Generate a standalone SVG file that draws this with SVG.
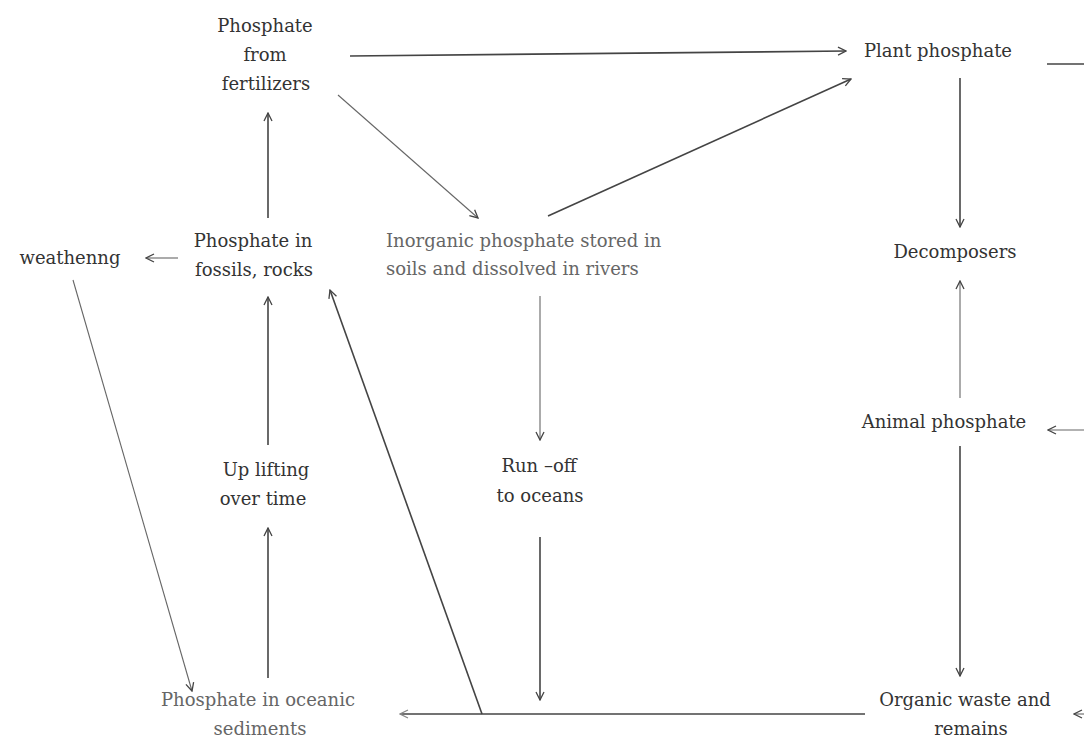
<svg xmlns="http://www.w3.org/2000/svg" width="1084" height="741" viewBox="0 0 1084 741">
<style>
text{font-family:'DejaVu Serif','Liberation Serif',serif;font-size:18px;fill:#333;text-anchor:middle}
.light{fill:#666}
.c{stroke:#444;stroke-width:1.6;fill:none}
.t{stroke:#666;stroke-width:1.1;fill:none}
</style>
<defs>
<marker id="a" viewBox="0 0 10 10" refX="9" refY="5" markerWidth="10" markerHeight="10" markerUnits="userSpaceOnUse" orient="auto">
<path d="M1,1 L9,5 L1,9" fill="none" stroke="#444" stroke-width="1.3"/>
</marker>
<marker id="al" viewBox="0 0 10 10" refX="9" refY="5" markerWidth="10" markerHeight="10" markerUnits="userSpaceOnUse" orient="auto">
<path d="M1,1 L9,5 L1,9" fill="none" stroke="#888" stroke-width="1.2"/>
</marker>
</defs>
<rect width="1084" height="741" fill="#fff"/>
<g id="connectors">
<line class="c" x1="350" y1="56" x2="846" y2="51" marker-end="url(#a)"/>
<line class="c" x1="1047" y1="64" x2="1084" y2="64"/>
<line class="t" x1="338" y1="95" x2="478" y2="218" marker-end="url(#a)"/>
<line class="c" x1="548" y1="216" x2="851" y2="79" marker-end="url(#a)"/>
<line class="c" x1="268" y1="218" x2="268" y2="113" marker-end="url(#a)"/>
<line class="t" x1="178" y1="258" x2="146" y2="258" marker-end="url(#a)"/>
<line class="c" x1="960" y1="78" x2="960" y2="227" marker-end="url(#a)"/>
<line class="t" x1="960" y1="398" x2="960" y2="281" marker-end="url(#a)"/>
<line class="t" x1="1084" y1="430" x2="1048" y2="430" marker-end="url(#a)"/>
<line class="c" x1="960" y1="446" x2="960" y2="676" marker-end="url(#a)"/>
<line class="t" x1="1084" y1="714" x2="1074" y2="714" marker-end="url(#a)"/>
<line class="c" x1="865" y1="714" x2="400" y2="714" marker-end="url(#al)"/>
<line class="t" x1="540" y1="296" x2="540" y2="440" marker-end="url(#a)"/>
<line class="c" x1="540" y1="537" x2="540" y2="700" marker-end="url(#a)"/>
<line class="c" x1="268" y1="445" x2="268" y2="297" marker-end="url(#a)"/>
<line class="c" x1="268" y1="678" x2="268" y2="528" marker-end="url(#a)"/>
<line class="t" x1="73" y1="280" x2="192" y2="691" marker-end="url(#a)"/>
<line class="c" x1="482" y1="714" x2="330" y2="290" marker-end="url(#a)"/>
</g>
<g id="fertilizers"><text x="265" y="32">Phosphate</text><text x="265" y="61">from</text><text x="266" y="90">fertilizers</text></g>
<g id="plant"><text x="938" y="57">Plant phosphate</text></g>
<g id="weathering"><text x="70" y="264">weathenng</text></g>
<g id="fossils"><text x="253" y="247">Phosphate in</text><text x="254" y="276">fossils, rocks</text></g>
<g id="inorganic"><text x="386" y="247" style="text-anchor:start" class="light">Inorganic phosphate stored in</text><text x="386" y="275" style="text-anchor:start" class="light">soils and dissolved in rivers</text></g>
<g id="decomposers"><text x="955" y="258">Decomposers</text></g>
<g id="animal"><text x="944" y="428">Animal phosphate</text></g>
<g id="organic"><text x="965" y="706">Organic waste and</text><text x="971" y="735">remains</text></g>
<g id="runoff"><text x="539" y="472">Run –off</text><text x="540" y="502">to oceans</text></g>
<g id="uplifting"><text x="266" y="476">Up lifting</text><text x="263" y="505">over time</text></g>
<g id="sediments"><text x="258" y="706" class="light">Phosphate in oceanic</text><text x="260" y="735" class="light">sediments</text></g>
</svg>
